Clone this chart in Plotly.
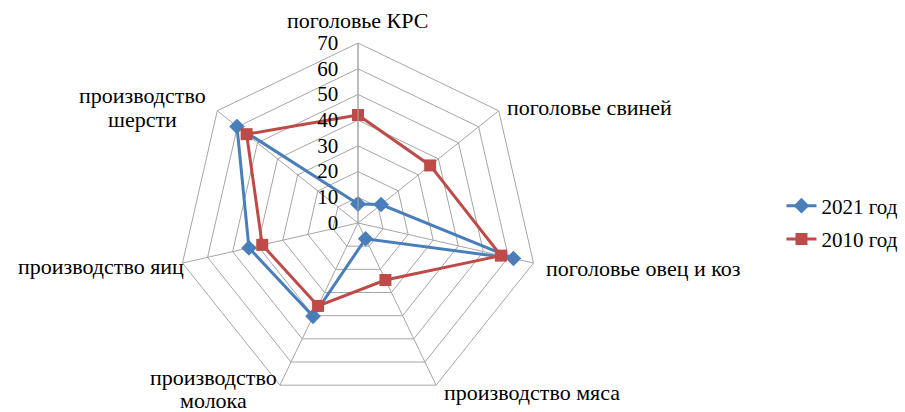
import plotly.graph_objects as go

categories = ["поголовье КРС", "поголовье свиней", "поголовье овец и коз",
              "производство мяса", "производство<br>молока", "производство яиц",
              "производство<br>шерсти"]
values_2021 = [7.4, 11.5, 62, 6.8, 40.3, 43.5, 60.2]
values_2010 = [42, 35.9, 57, 24.6, 35.8, 38.2, 55.4]
radial_ticks = [0, 10, 20, 30, 40, 50, 60, 70]

W, H = 905, 412
FONT = "Liberation Serif"

fig = go.Figure()
fig.add_trace(go.Scatterpolar(
    r=values_2021 + values_2021[:1], theta=categories + categories[:1],
    mode="lines+markers", name="2021 год", legendgroup="a",
    line=dict(color="#4a7ebb", width=3),
    marker=dict(symbol="diamond", size=12, color="#4a7ebb")))
fig.add_trace(go.Scatterpolar(
    r=values_2010 + values_2010[:1], theta=categories + categories[:1],
    mode="lines+markers", name="2010 год", legendgroup="b",
    line=dict(color="#be4b48", width=3),
    marker=dict(symbol="square", size=12, color="#be4b48")))

# category label placement (pixel anchor, alignment, line gap) for each category
label_pos = [
    (357, 21, "center", 24),
    (505, 107, "left", 24),
    (544, 268, "left", 24),
    (442, 392, "left", 24),
    (213, 377, "center", 23),
    (186, 266, "right", 24),
    (142, 95, "center", 25),
]
annotations = []
for cat, (px, py, al, gap) in zip(categories, label_pos):
    for i, line in enumerate(cat.split("<br>")):
        annotations.append(dict(
            text=line, xref="paper", yref="paper",
            x=px / W, y=1 - (py + i * gap) / H,
            xanchor=al, yanchor="middle", showarrow=False,
            font=dict(family=FONT, size=22, color="black")))

cx, cy, R = 358, 223, 180
fig.update_layout(
    width=W, height=H,
    margin=dict(l=0, r=0, t=0, b=0),
    paper_bgcolor="white", plot_bgcolor="white",
    font=dict(family=FONT, size=22, color="black"),
    annotations=annotations,
    polar=dict(
        domain=dict(x=[(cx - R) / W, (cx + R) / W],
                    y=[(H - cy - R) / H, (H - cy + R) / H]),
        bgcolor="white",
        gridshape="linear",
        radialaxis=dict(range=[0, 70], tickvals=radial_ticks, angle=90,
                        tickangle=90,
                        side="counterclockwise", showline=True,
                        linecolor="#a6a6a6", linewidth=1,
                        gridcolor="#a6a6a6", gridwidth=1,
                        ticks="outside", ticklen=12,
                        tickcolor="rgba(0,0,0,0)",
                        tickfont=dict(size=21)),
        angularaxis=dict(direction="clockwise", rotation=90,
                         showticklabels=False,
                         linecolor="#a6a6a6", linewidth=1,
                         gridcolor="#a6a6a6", gridwidth=1, ticks="")),
    legend=dict(x=0.8635, y=0.46, xanchor="left", yanchor="middle",
                tracegroupgap=3, font=dict(size=21)),
)
fig.write_html("out.html", config={"displayModeBar": False},
               post_script="document.body.style.margin='0';document.body.style.overflow='hidden';")
